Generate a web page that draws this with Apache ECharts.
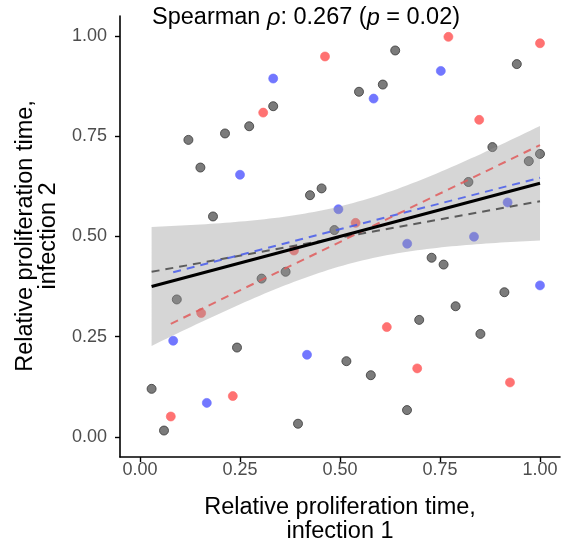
<!DOCTYPE html>
<html>
<head>
<meta charset="utf-8">
<script src="https://cdn.jsdelivr.net/npm/echarts@6/dist/echarts.min.js"></script>
<style>html,body{margin:0;padding:0;background:#fff}#c{width:568px;height:546px}</style>
</head>
<body>
<div id="c"></div>
<script>
// ---- data ----
const grayX = [0.333,0.273,0.2125,0.121,0.151,0.454,0.425,0.1825,0.486,0.638,0.942,0.607,0.5475,0.881,0.972,1.0,0.821,0.364,0.304,0.092,0.2425,0.029,0.395,0.06,0.729,0.759,0.911,0.789,0.698,0.851,0.516,0.577,0.6675];
const grayY = [0.825,0.775,0.757,0.741,0.672,0.620,0.603,0.550,0.516,0.964,0.930,0.879,0.861,0.723,0.688,0.706,0.636,0.412,0.395,0.343,0.223,0.120,0.033,0.016,0.447,0.430,0.361,0.326,0.292,0.257,0.189,0.154,0.067];
const redX = [0.4625,0.308,0.771,1.0,0.848,0.539,0.385,0.153,0.232,0.077,0.617,0.693,0.925];
const redY = [0.949,0.809,0.998,0.982,0.791,0.534,0.465,0.309,0.102,0.051,0.274,0.171,0.136];
const blueX = [0.333,0.25,0.496,0.752,0.584,0.919,0.835,0.083,0.4175,0.167,0.668,1.0];
const blueY = [0.894,0.654,0.568,0.913,0.844,0.585,0.4995,0.240,0.205,0.085,0.482,0.378];
const tickValues = [0, 0.25, 0.5, 0.75, 1.0];
const titleParts = ["Spearman ", "\u03c1", ": 0.267 (", "p", " = 0.02)"];
const xTitle = "Relative proliferation time,\ninfection 1";
const yTitle = "Relative proliferation time,\ninfection 2";

// ---- linear model helpers ----
function lm(xs, ys) {
  const n = xs.length;
  const xbar = xs.reduce((a,b)=>a+b,0)/n, ybar = ys.reduce((a,b)=>a+b,0)/n;
  let sxx=0, sxy=0;
  for (let i=0;i<n;i++){ sxx+=(xs[i]-xbar)**2; sxy+=(xs[i]-xbar)*(ys[i]-ybar); }
  const b = sxy/sxx, a = ybar - b*xbar;
  let sse=0; for (let i=0;i<n;i++){ sse += (ys[i]-a-b*xs[i])**2; }
  const s = Math.sqrt(sse/(n-2));
  return {a,b,xbar,sxx,s,n,xmin:Math.min(...xs),xmax:Math.max(...xs)};
}
function tq975(df){
  const z=1.959964;
  return z + (z**3+z)/(4*df) + (5*z**5+16*z**3+3*z)/(96*df*df);
}
const allX = grayX.concat(redX, blueX), allY = grayY.concat(redY, blueY);
const mAll = lm(allX, allY), mGray = lm(grayX, grayY), mRed = lm(redX, redY), mBlue = lm(blueX, blueY);
function fitLine(m){ return [[m.xmin, m.a+m.b*m.xmin],[m.xmax, m.a+m.b*m.xmax]]; }
const t = tq975(mAll.n-2);
const bandX = [];
for (let i=0;i<80;i++) bandX.push(mAll.xmin + (mAll.xmax-mAll.xmin)*i/79);
const upper = bandX.map(x=>{const h=t*mAll.s*Math.sqrt(1/mAll.n+(x-mAll.xbar)**2/mAll.sxx); return [x, mAll.a+mAll.b*x+h];});
const lower = bandX.map(x=>{const h=t*mAll.s*Math.sqrt(1/mAll.n+(x-mAll.xbar)**2/mAll.sxx); return [x, mAll.a+mAll.b*x-h];});

const zip = (xs,ys)=>xs.map((x,i)=>[x,ys[i]]);
const FONT = "'Liberation Sans', Arial, Helvetica, sans-serif";

const chart = echarts.init(document.getElementById('c'), null, {renderer:'canvas'});
const axisCommon = {
  type:'value', min:-0.05, max:1.05,
  splitLine:{show:false},
  axisLine:{show:true, onZero:false, lineStyle:{color:'#000', width:1.6}},
  axisTick:{show:true, customValues:tickValues, length:5, lineStyle:{color:'#000', width:1.4}},
};
chart.setOption({
  animation:false,
  backgroundColor:'#fff',
  grid:{left:120, right:8, top:16, bottom:89, containLabel:false},
  xAxis:Object.assign({}, axisCommon, {
    axisLabel:{customValues:tickValues, formatter:v=>v.toFixed(2), color:'#4d4d4d', fontSize:18, fontFamily:FONT, margin:4}
  }),
  yAxis:Object.assign({}, axisCommon, {
    axisLabel:{customValues:tickValues, formatter:v=>v.toFixed(2), color:'#4d4d4d', fontSize:18, fontFamily:FONT, margin:13}
  }),
  graphic:[
    {type:'text', left:152, top:6, style:{
      text:'{a|'+titleParts[0]+'}{i|'+titleParts[1]+'}{a|'+titleParts[2]+'}{i|'+titleParts[3]+'}{a|'+titleParts[4]+'}',
      rich:{a:{fontSize:23.5, fontFamily:FONT, fill:'#000'}, i:{fontSize:23.5, fontFamily:FONT, fontStyle:'italic', fill:'#000'}}
    }},
    {type:'text', x:340, y:496, style:{text:xTitle, fontSize:23.5, fontFamily:FONT, fill:'#000', textAlign:'center', lineHeight:23.5}},
    {type:'text', x:14, y:236, rotation:Math.PI/2, style:{text:yTitle, fontSize:23.5, fontFamily:FONT, fill:'#000', textAlign:'center', textVerticalAlign:'top', lineHeight:23}}
  ],
  series:[
    {type:'scatter', data:zip(grayX,grayY), symbolSize:9, z:2, itemStyle:{color:'#5a5a5a', borderColor:'#383838', borderWidth:1}},
    {type:'scatter', data:zip(redX,redY), symbolSize:9, z:2, itemStyle:{color:'#ff4f4f', borderColor:'#ff6a6a', borderWidth:0.8}},
    {type:'scatter', data:zip(blueX,blueY), symbolSize:9, z:2, itemStyle:{color:'#4f55ff', borderColor:'#6a70ff', borderWidth:0.8}},
    {type:'custom', coordinateSystem:'cartesian2d', z:3, silent:true, data:[[0.5,0.5]],
      renderItem:function(params, api){
        const pts = upper.map(p=>api.coord(p)).concat(lower.slice().reverse().map(p=>api.coord(p)));
        return {type:'polygon', shape:{points:pts}, style:{fill:'rgba(153,153,153,0.4)'}};
      }},
    {type:'line', data:fitLine(mGray), z:4, symbol:'none', lineStyle:{color:'rgba(70,70,70,0.85)', width:2, type:[8,6]}},
    {type:'line', data:fitLine(mBlue), z:4, symbol:'none', lineStyle:{color:'rgba(70,90,235,0.85)', width:2, type:[8,6]}},
    {type:'line', data:fitLine(mRed), z:4, symbol:'none', lineStyle:{color:'rgba(225,90,90,0.85)', width:2, type:[8,6]}},
    {type:'line', data:fitLine(mAll), z:5, symbol:'none', lineStyle:{color:'#000', width:3}}
  ]
});
</script>
</body>
</html>
